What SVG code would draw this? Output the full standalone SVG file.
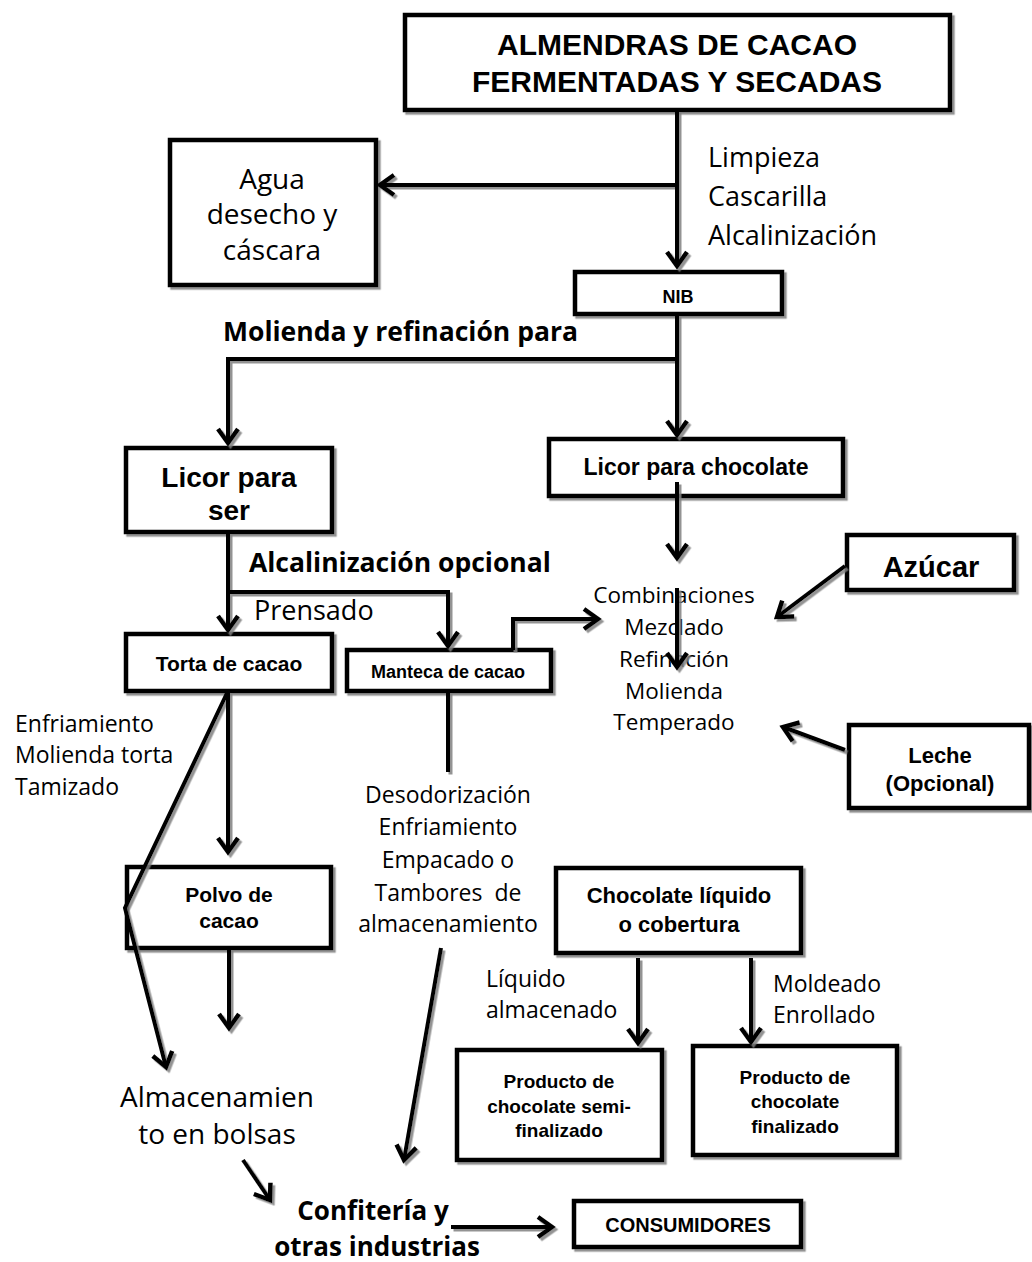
<svg xmlns="http://www.w3.org/2000/svg" width="1032" height="1262" viewBox="0 0 1032 1262">
<style>
.box{fill:#fff;stroke:#000;stroke-width:4.5}
.bt{font-family:"Liberation Sans",Arial,sans-serif;font-weight:bold;fill:#000;text-anchor:middle}
.ct{font-family:"Open Sans","Liberation Sans",sans-serif;fill:#000}
.cb{font-family:"Open Sans","Liberation Sans",sans-serif;font-weight:bold;fill:#000}
.mid{text-anchor:middle}
.ln{fill:none;stroke:#000;stroke-width:4;stroke-linejoin:miter}
.ar{marker-end:url(#arr)}
</style>
<defs>
<marker id="arr" markerUnits="userSpaceOnUse" viewBox="-18 -13 22 26" markerWidth="22" markerHeight="26" refX="0" refY="0" orient="auto">
<path d="M-14,-10 L0,0 L-14,10" fill="none" stroke="#000" stroke-width="4.5" stroke-linejoin="miter"/>
</marker>
<filter id="sh" filterUnits="userSpaceOnUse" x="0" y="0" width="1032" height="1262">
<feDropShadow dx="2.5" dy="2.5" stdDeviation="0.7" flood-color="#808080" flood-opacity="0.85"/>
</filter>
</defs>
<rect width="1032" height="1262" fill="#fff"/>

<g id="almendras"><rect class="box" x="405" y="15" width="545" height="95" filter="url(#sh)"/>
<text class="bt" x="677" y="55" font-size="30">ALMENDRAS DE CACAO</text>
<text class="bt" x="677" y="92" font-size="30">FERMENTADAS Y SECADAS</text></g>

<g id="agua"><rect class="box" x="170" y="140" width="206" height="145" filter="url(#sh)"/>
<text class="ct mid" x="272" y="189" font-size="28">Agua</text>
<text class="ct mid" x="272" y="224" font-size="28">desecho y</text>
<text class="ct mid" x="272" y="260" font-size="28">cáscara</text></g>

<g id="lbl-limpieza"><text class="ct" x="708" y="167" font-size="27">Limpieza</text>
<text class="ct" x="708" y="206" font-size="27">Cascarilla</text>
<text class="ct" x="708" y="245" font-size="27">Alcalinización</text></g>

<g id="nib"><rect class="box" x="575" y="272" width="207" height="42" filter="url(#sh)"/>
<text class="bt" x="678" y="303" font-size="18">NIB</text></g>

<g id="lbl-molienda"><text class="cb" x="223" y="341" font-size="26.5">Molienda y refinación para</text></g>

<g id="licor-ser"><rect class="box" x="126" y="448" width="206" height="84" filter="url(#sh)"/>
<text class="bt" x="229" y="487" font-size="28">Licor para</text>
<text class="bt" x="229" y="520" font-size="28">ser</text></g>

<g id="licor-choc"><rect class="box" x="549" y="439" width="294" height="57" filter="url(#sh)"/>
<text class="bt" x="696" y="475" font-size="23">Licor para chocolate</text></g>

<g id="lbl-alcal"><text class="cb" x="249" y="572" font-size="26.5">Alcalinización opcional</text>
<text class="ct" x="254" y="620" font-size="27">Prensado</text></g>

<g id="azucar"><rect class="box" x="847" y="535" width="167" height="55" filter="url(#sh)"/>
<text class="bt" x="931" y="577" font-size="29">Azúcar</text></g>

<g id="combinaciones"><text class="ct mid" x="674" y="603" font-size="22.5">Combinaciones</text>
<text class="ct mid" x="674" y="635" font-size="22.5">Mezclado</text>
<text class="ct mid" x="674" y="667" font-size="22.5">Refinación</text>
<text class="ct mid" x="674" y="699" font-size="22.5">Molienda</text>
<text class="ct mid" x="674" y="730" font-size="22.5">Temperado</text></g>

<g id="leche"><rect class="box" x="849" y="725" width="180" height="83" filter="url(#sh)"/>
<text class="bt" x="940" y="763" font-size="22">Leche</text>
<text class="bt" x="940" y="791" font-size="22">(Opcional)</text></g>

<g id="torta"><rect class="box" x="126" y="634" width="206" height="57" filter="url(#sh)"/>
<text class="bt" x="229" y="671" font-size="21">Torta de cacao</text></g>

<g id="manteca"><rect class="box" x="347" y="650" width="204" height="41" filter="url(#sh)"/>
<text class="bt" x="448" y="678" font-size="18">Manteca de cacao</text></g>

<g id="lbl-enfriamiento"><text class="ct" x="15" y="732" font-size="23">Enfriamiento</text>
<text class="ct" x="15" y="763" font-size="23">Molienda torta</text>
<text class="ct" x="15" y="795" font-size="23">Tamizado</text></g>

<g id="lbl-desodorizacion"><text class="ct mid" x="448" y="803" font-size="23">Desodorización</text>
<text class="ct mid" x="448" y="835" font-size="23">Enfriamiento</text>
<text class="ct mid" x="448" y="868" font-size="23">Empacado o</text>
<text class="ct mid" x="448" y="901" font-size="23" xml:space="preserve">Tambores  de</text>
<text class="ct mid" x="448" y="932" font-size="23">almacenamiento</text></g>

<g id="polvo"><rect class="box" x="127" y="867" width="204" height="81" filter="url(#sh)"/>
<text class="bt" x="229" y="902" font-size="21">Polvo de</text>
<text class="bt" x="229" y="928" font-size="21">cacao</text></g>

<g id="chocolate-liquido"><rect class="box" x="556" y="868" width="245" height="85" filter="url(#sh)"/>
<text class="bt" x="679" y="903" font-size="22">Chocolate líquido</text>
<text class="bt" x="679" y="932" font-size="22">o cobertura</text></g>

<g id="lbl-liquido"><text class="ct" x="486" y="987" font-size="23">Líquido</text>
<text class="ct" x="486" y="1018" font-size="23">almacenado</text></g>

<g id="lbl-moldeado"><text class="ct" x="773" y="992" font-size="23">Moldeado</text>
<text class="ct" x="773" y="1023" font-size="23">Enrollado</text></g>

<g id="producto-semi"><rect class="box" x="457" y="1050" width="205" height="110" filter="url(#sh)"/>
<text class="bt" x="559" y="1088" font-size="19">Producto de</text>
<text class="bt" x="559" y="1113" font-size="19">chocolate semi-</text>
<text class="bt" x="559" y="1137" font-size="19">finalizado</text></g>

<g id="producto-final"><rect class="box" x="693" y="1046" width="204" height="109" filter="url(#sh)"/>
<text class="bt" x="795" y="1084" font-size="19">Producto de</text>
<text class="bt" x="795" y="1108" font-size="19">chocolate</text>
<text class="bt" x="795" y="1133" font-size="19">finalizado</text></g>

<g id="almacenamiento"><text class="ct mid" x="217" y="1107" font-size="28">Almacenamien</text>
<text class="ct mid" x="217" y="1144" font-size="28">to en bolsas</text></g>

<g id="confiteria"><text class="cb mid" x="373" y="1220" font-size="26">Confitería y</text>
<text class="cb mid" x="377" y="1256" font-size="26">otras industrias</text></g>

<g id="consumidores"><rect class="box" x="574" y="1201" width="227" height="46" filter="url(#sh)"/>
<text class="bt" x="688" y="1232" font-size="20">CONSUMIDORES</text></g>

<g id="connectors" filter="url(#sh)">
<line class="ln ar" x1="677" y1="110" x2="677" y2="266"/>
<line class="ln ar" x1="677" y1="185" x2="380" y2="185"/>
<line class="ln ar" x1="677" y1="314" x2="677" y2="435"/>
<polyline class="ln ar" points="677,359 228,359 228,443"/>
<line class="ln ar" x1="677" y1="482" x2="677" y2="558"/>
<line class="ln ar" x1="677" y1="588" x2="677" y2="667"/>
<line class="ln ar" x1="845" y1="566" x2="777" y2="617"/>
<line class="ln ar" x1="845" y1="750" x2="783" y2="727"/>
<line class="ln ar" x1="228" y1="532" x2="228" y2="630"/>
<polyline class="ln ar" points="228,592 448,592 448,646"/>
<polyline class="ln ar" points="513,650 513,619 598,619"/>
<line class="ln" x1="448" y1="691" x2="448" y2="772"/>
<line class="ln ar" x1="228" y1="691" x2="228" y2="852"/>
<polyline class="ln ar" points="228,691 125,908 166,1067"/>
<line class="ln ar" x1="229" y1="948" x2="229" y2="1028"/>
<line class="ln ar" x1="441" y1="948" x2="404" y2="1160"/>
<line class="ln ar" x1="638" y1="958" x2="638" y2="1043"/>
<line class="ln ar" x1="751" y1="958" x2="751" y2="1042"/>
<line class="ln ar" x1="243" y1="1160" x2="270" y2="1200"/>
<line class="ln ar" x1="451" y1="1227" x2="552" y2="1227" stroke-width="5.5"/>
</g>
</svg>
